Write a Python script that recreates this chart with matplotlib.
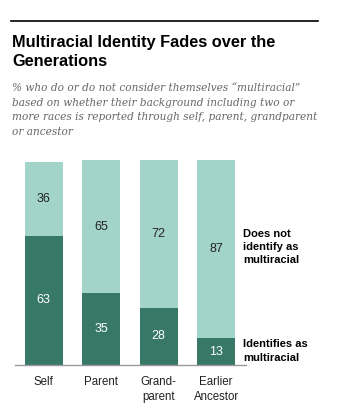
import matplotlib
matplotlib.use("Agg")
import matplotlib.pyplot as plt
from matplotlib.lines import Line2D

# Data
categories = ["Self", "Parent", "Grand-\nparent", "Earlier\nAncestor"]
identifies = [63, 35, 28, 13]
does_not = [36, 65, 72, 87]

DARK = "#377867"
LIGHT = "#a3d4c9"

fig = plt.figure(figsize=(3.57, 4.08), dpi=100)
ax = fig.add_axes([15 / 357, 43 / 408, 231 / 357, 205 / 408])

x = list(range(len(categories)))
ax.bar(x, identifies, width=0.66, color=DARK)
ax.bar(x, does_not, width=0.66, bottom=identifies, color=LIGHT)

for i in x:
    ax.text(i, identifies[i] / 2, str(identifies[i]), ha="center", va="center",
            color="white", fontsize=9, family="Liberation Sans")
    ax.text(i, identifies[i] + does_not[i] / 2, str(does_not[i]), ha="center",
            va="center", color="#222222", fontsize=9, family="Liberation Sans")

ax.set_xlim(-0.5, 3.52)
ax.set_ylim(0, 100)
ax.set_xticks(x)
ax.set_xticklabels(categories, fontsize=8.3, family="Liberation Sans", color="#222222",
                   linespacing=1.35)
ax.tick_params(axis="x", length=0, pad=8)
ax.set_yticks([])
for s in ["top", "right", "left"]:
    ax.spines[s].set_visible(False)
ax.spines["bottom"].set_color("#999999")
ax.spines["bottom"].set_linewidth(1)

# series labels at right
fig.text(243 / 357, 1 - 247 / 408, "Does not\nidentify as\nmultiracial",
         ha="left", va="center", fontsize=8, fontweight="bold",
         family="Liberation Sans", linespacing=1.4)
fig.text(243 / 357, 1 - 351 / 408, "Identifies as\nmultiracial",
         ha="left", va="center", fontsize=8, fontweight="bold",
         family="Liberation Sans", linespacing=1.4)

# header
fig.add_artist(Line2D([11 / 357, 318 / 357], [1 - 21 / 408, 1 - 21 / 408],
                      color="black", linewidth=1.2))
fig.text(12 / 357, 1 - 52 / 408, "Multiracial Identity Fades over the\nGenerations",
         ha="left", va="center", fontsize=11.8, fontweight="bold",
         family="Liberation Sans", linespacing=1.3)
fig.text(12 / 357, 1 - 110 / 408,
         "% who do or do not consider themselves \u201cmultiracial\u201d\n"
         "based on whether their background including two or\n"
         "more races is reported through self, parent, grandparent\n"
         "or ancestor",
         ha="left", va="center", fontsize=7.6, style="italic", color="#666666",
         family="DejaVu Serif", linespacing=1.6)

fig.savefig("out.png", dpi=100)
